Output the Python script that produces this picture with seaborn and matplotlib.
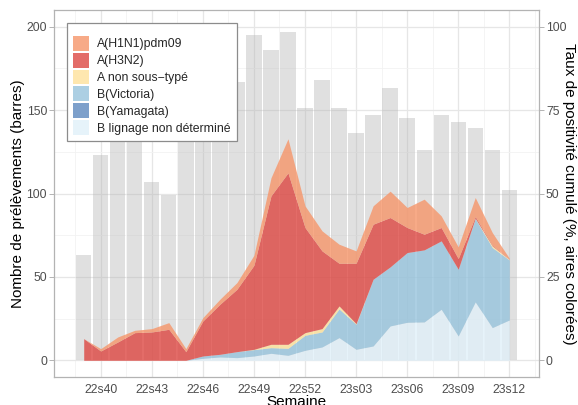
import matplotlib
matplotlib.use("Agg")
import matplotlib.pyplot as plt
import numpy as np
import pandas as pd
import seaborn as sns
from matplotlib.patches import Patch
from matplotlib.ticker import FixedLocator

# ---------------- data ----------------
weeks = ["22s39", "22s40", "22s41", "22s42", "22s43", "22s44", "22s45", "22s46",
         "22s47", "22s48", "22s49", "22s50", "22s51", "22s52", "23s01", "23s02",
         "23s03", "23s04", "23s05", "23s06", "23s07", "23s08", "23s09", "23s10",
         "23s11", "23s12"]
n_prelevements = [63, 123, 135, 140, 107, 99, 140, 150, 160, 167, 195, 186, 197,
                  151, 168, 151, 136, 147, 163, 145, 126, 147, 143, 139, 126, 102]

# positivity (%) per subtype, stacked bottom -> top
b_lignage_nd = [0, 0, 0, 0, 0, 0, 0, 0.6, 1.0, 0.8, 1.3, 2.1, 1.5, 3.0, 4.0, 6.8,
                3.3, 4.3, 10.3, 11.4, 11.5, 15.3, 7.3, 17.5, 9.8, 12.1]
b_victoria = [0, 0, 0, 0, 0, 0, 0, 0.7, 0.8, 1.8, 1.9, 1.7, 2.1, 4.5, 4.5, 8.6,
              7.5, 20.0, 17.7, 20.9, 21.6, 20.5, 20.0, 25.0, 24.0, 18.0]
b_yamagata = [0] * 26
a_non_sous_type = [0, 0, 0, 0, 0, 0, 0, 0, 0, 0, 0.1, 1.0, 1.2, 0.8, 1.0, 0.9,
                   0.2, 0, 0, 0, 0, 0, 0, 0.1, 0.5, 0.2]
a_h3n2 = [6.5, 2.8, 5.5, 8.3, 8.5, 9.3, 2.6, 10.5, 15.0, 18.7, 25.2, 44.5, 51.4,
          31.5, 23.3, 12.8, 18.1, 16.5, 14.8, 7.5, 4.7, 4.0, 3.2, 0.5, 0.2, 0.1]
a_h1n1 = [0, 0.7, 1.5, 0.7, 1.0, 2.0, 0.9, 1.0, 1.5, 2.0, 3.0, 5.4, 10.2, 6.5,
          6.0, 5.7, 3.7, 5.5, 7.9, 6.0, 10.5, 3.5, 3.5, 5.7, 3.8, 0.2]

legend_labels = ["A(H1N1)pdm09", "A(H3N2)", "A non sous\u2212typé", "B(Victoria)",
                 "B(Yamagata)", "B lignage non déterminé"]
tick_weeks = ["22s40", "22s43", "22s46", "22s49", "22s52", "23s03", "23s06",
              "23s09", "23s12"]

# ---------------- style ----------------
sns.set_style("white")
plt.rcParams["font.family"] = ["Liberation Sans", "DejaVu Sans"]

colors = {
    "A(H1N1)pdm09": "#F69569",
    "A(H3N2)": "#DD4742",
    "A non sous\u2212typé": "#FEE29B",
    "B(Victoria)": "#97C4DD",
    "B(Yamagata)": "#5C88BE",
    "B lignage non déterminé": "#E0F0F9",
}
area_alpha = 0.8

W, H = 578, 405
fig = plt.figure(figsize=(W / 100, H / 100), dpi=100)
ax = fig.add_axes([54 / W, 1 - 377 / H, (539 - 54) / W, (377 - 10) / H])

df = pd.DataFrame({"semaine": weeks, "n": n_prelevements})
sns.barplot(data=df, x="semaine", y="n", color="#B3B3B3", alpha=0.4,
            width=0.9, saturation=1, errorbar=None, edgecolor="none",
            linewidth=0, ax=ax, zorder=2)

pos = np.arange(len(weeks))
ax.set_xlim(-1.745, len(weeks) - 1 + 1.745)
ax.set_ylim(-10, 210)
ax.set_xlabel("")
ax.set_ylabel("")

ax.xaxis.set_major_locator(FixedLocator([weeks.index(w) for w in tick_weeks]))
ax.set_xticklabels(tick_weeks)
ax.xaxis.set_minor_locator(FixedLocator(np.arange(-0.5, len(weeks) + 1, 3)))
ax.yaxis.set_major_locator(FixedLocator([0, 50, 100, 150, 200]))
ax.yaxis.set_minor_locator(FixedLocator([25, 75, 125, 175]))

ax.set_axisbelow(True)
ax.grid(True, which="major", color="#E6E6E6", linewidth=0.9, zorder=0)
ax.grid(True, which="minor", color="#F2F2F2", linewidth=0.6, zorder=0)
ax.tick_params(which="major", length=3.5, width=0.7, color="#B3B3B3",
               labelsize=8.8, labelcolor="#4D4D4D", pad=1.5)
ax.tick_params(which="minor", length=0)
for s in ax.spines.values():
    s.set_color("#B3B3B3")
    s.set_linewidth(0.9)

# ---------------- stacked areas (right axis) ----------------
ax2 = ax.twinx()
ax2.set_ylim(-5, 105)
ax2.yaxis.set_major_locator(FixedLocator([0, 25, 50, 75, 100]))
ax2.tick_params(which="major", length=3.5, width=0.7, color="#B3B3B3",
                labelsize=8.8, labelcolor="#4D4D4D", pad=1.5)
ax2.grid(False)
for s in ax2.spines.values():
    s.set_visible(False)

layers = [b_lignage_nd, b_victoria, b_yamagata, a_non_sous_type, a_h3n2, a_h1n1]
layer_names = ["B lignage non déterminé", "B(Victoria)", "B(Yamagata)",
               "A non sous\u2212typé", "A(H3N2)", "A(H1N1)pdm09"]
ax2.stackplot(pos, *layers, colors=[colors[n] for n in layer_names],
              alpha=area_alpha, linewidth=0)

# ---------------- legend ----------------
handles = [Patch(facecolor=colors[l], alpha=area_alpha, edgecolor="none")
           for l in legend_labels]
leg = ax2.legend(handles, legend_labels, loc="upper left",
                 bbox_to_anchor=(67 / W, 1 - 22.7 / H),
                 bbox_transform=fig.transFigure, borderaxespad=0,
                 fontsize=8.8, title=" ", title_fontsize=3.5,
                 handlelength=1.31, handleheight=1.5, labelspacing=0.16,
                 handletextpad=0.68, borderpad=0.5, fancybox=False,
                 framealpha=1, edgecolor="#8C8C8C")
leg.get_frame().set_linewidth(0.9)

# ---------------- axis titles ----------------
yc = 1 - 193.5 / H
fig.text(18 / W, yc, "Nombre de prélèvements (barres)", rotation=90,
         ha="center", va="center", fontsize=11, color="black")
fig.text(569.5 / W, yc, "Taux de positivité cumulé (%, aires colorées)",
         rotation=270, ha="center", va="center", fontsize=11, color="black")
fig.text(296.5 / W, 1 - 394.5 / H, "Semaine", ha="center", va="top",
         fontsize=11, color="black")

fig.savefig("out.png", dpi=100)
